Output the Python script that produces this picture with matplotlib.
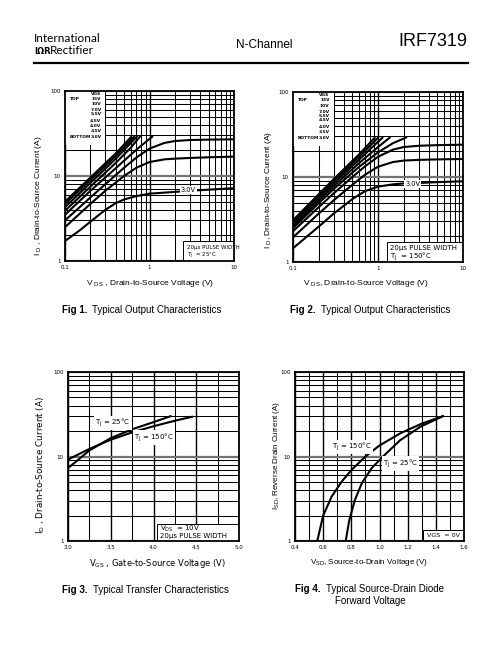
import matplotlib
matplotlib.use("Agg")
import matplotlib.pyplot as plt
from matplotlib.patches import Rectangle
from matplotlib.lines import Line2D
from matplotlib.ticker import FixedLocator, NullFormatter

plt.rcParams['font.family'] = ['Liberation Sans', 'DejaVu Sans']
plt.rcParams['mathtext.default'] = 'regular'

vgs_labels = ["15V", "10V", "7.0V", "5.5V", "4.5V", "4.0V", "3.5V", "3.0V"]

# Fig 1, TJ = 25C, one list per VGS curve (top to bottom)
fig1_vds = [
    [0.1, 0.2, 0.4, 0.62],
    [0.1, 0.2, 0.4, 0.67],
    [0.1, 0.2, 0.4, 0.72],
    [0.1, 0.2, 0.4, 0.6, 0.78],
    [0.1, 0.2, 0.3, 0.4, 0.6, 0.8, 1.1],
    [0.1, 0.2, 0.3, 0.5, 0.7, 1.0, 1.5, 2, 3, 5, 10],
    [0.1, 0.2, 0.3, 0.5, 0.7, 1.0, 1.5, 2, 3, 5, 10],
    [0.1, 0.15, 0.2, 0.3, 0.4, 0.5, 0.7, 1.0, 2, 3, 5, 10],
]
fig1_id = [
    [5.0, 9.6, 18.5, 29.5],
    [4.7, 9.0, 17.3, 29.5],
    [4.3, 8.3, 16.0, 29.5],
    [3.9, 7.5, 14.3, 21.5, 29.5],
    [3.5, 6.7, 9.6, 12.4, 17.8, 22.8, 29.5],
    [3.0, 5.6, 8.0, 12.5, 16.5, 21.0, 24.5, 25.8, 26.5, 26.8, 27.0],
    [2.5, 4.7, 6.7, 10.0, 12.5, 14.6, 15.7, 16.0, 16.3, 16.6, 16.9],
    [1.72, 2.3, 2.9, 4.0, 4.8, 5.3, 5.8, 6.2, 6.5, 6.7, 6.9, 7.2],
]

# Fig 2, TJ = 150C
fig2_vds = [
    [0.1, 0.3, 0.6, 0.93],
    [0.1, 0.3, 0.6, 1.02],
    [0.1, 0.3, 0.6, 0.9, 1.15],
    [0.1, 0.3, 0.6, 1.0, 1.4],
    [0.1, 0.2, 0.3, 0.6, 1.0, 1.5, 2.2],
    [0.1, 0.2, 0.3, 0.5, 0.7, 1.0, 1.5, 2, 3, 5, 10],
    [0.1, 0.2, 0.3, 0.5, 0.7, 1.0, 1.5, 2, 3, 5, 10],
    [0.1, 0.2, 0.3, 0.5, 0.7, 1.0, 1.5, 2, 3, 5, 10],
]
fig2_id = [
    [3.1, 9.4, 18.5, 29.5],
    [2.95, 8.9, 17.3, 29.5],
    [2.8, 8.4, 16.0, 23.5, 29.5],
    [2.65, 7.8, 14.6, 22.5, 29.5],
    [2.5, 4.9, 7.2, 13.2, 19.5, 25.0, 29.5],
    [2.3, 4.4, 6.4, 10.0, 13.3, 17.3, 21.0, 22.5, 23.3, 23.7, 24.0],
    [1.95, 3.7, 5.3, 8.1, 10.6, 13.2, 15.0, 15.6, 15.9, 16.1, 16.3],
    [1.45, 2.6, 3.7, 5.5, 6.8, 7.7, 8.2, 8.4, 8.5, 8.7, 8.9],
]

# Fig 3, transfer characteristics
fig3_vgs_25 = [3.0, 3.1, 3.25, 3.5, 3.75, 4.0, 4.2]
fig3_id_25 = [7.3, 8.8, 11.8, 16.5, 21.0, 25.5, 30.0]
fig3_vgs_150 = [3.0, 3.25, 3.5, 3.75, 4.0, 4.25, 4.45]
fig3_id_150 = [9.2, 12.3, 15.8, 19.3, 22.8, 26.5, 29.5]

# Fig 4, source-drain diode
fig4_vsd_150 = [0.558, 0.6, 0.66, 0.73, 0.8, 0.9, 1.0, 1.15, 1.3, 1.45]
fig4_isd_150 = [1.0, 2.0, 3.35, 5.0, 6.9, 10.0, 13.5, 18.9, 24.5, 30.0]
fig4_vsd_25 = [0.76, 0.785, 0.825, 0.875, 0.945, 1.025, 1.145, 1.29, 1.45]
fig4_isd_25 = [1.0, 1.75, 3.05, 4.85, 7.3, 10.0, 15.5, 22.5, 30.0]

W, H = 504, 648
LOG_MINOR = [2, 3, 4, 5, 6, 7, 8, 9, 20, 30, 40, 50, 60, 70, 80, 90]
TICK_FONT = dict(fontsize=4, family='DejaVu Sans')


def px_rect(left, top, right, bottom):
    return [left / W, 1 - bottom / H, (right - left) / W, (bottom - top) / H]


def style_axes(ax, xlog, xmajor, xlabels, xminor):
    ax.set_yscale('log')
    ax.set_ylim(1, 100)
    ax.set_yticks([1, 10, 100])
    ax.set_yticklabels(['1', '10', '100'], **TICK_FONT)
    ax.yaxis.set_minor_locator(FixedLocator(LOG_MINOR))
    ax.yaxis.set_minor_formatter(NullFormatter())
    if xlog:
        ax.set_xscale('log')
    ax.set_xlim(xmajor[0], xmajor[-1])
    ax.set_xticks(xmajor)
    ax.set_xticklabels(xlabels, **TICK_FONT)
    ax.xaxis.set_minor_locator(FixedLocator(xminor))
    ax.xaxis.set_minor_formatter(NullFormatter())
    ax.tick_params(which='both', length=0, pad=3)
    ax.set_axisbelow(True)
    ax.grid(True, which='minor', color='black', lw=0.75)
    ax.xaxis.grid(True, which='major', color='black', lw=1.0)
    ax.yaxis.grid(True, which='major', color='0.45', lw=1.6)
    for s in ax.spines.values():
        s.set_linewidth(1.3)
        s.set_zorder(5)


def draw_output(ax, vds, ids, rows, pulse_lines, pulse_size, box_left, box_top, lbl_xy):
    style_axes(ax, True, [0.1, 1, 10], ['0.1', '1', '10'],
               [0.2, 0.3, 0.4, 0.5, 0.6, 0.7, 0.8, 0.9, 2, 3, 4, 5, 6, 7, 8, 9])
    ax.add_patch(Rectangle((0, 0.685), 0.2386, 0.4, transform=ax.transAxes,
                           facecolor='white', edgecolor='none', zorder=1))
    for x, y in zip(vds, ids):
        ax.plot(x, y, color='black', lw=1.5, zorder=2, solid_capstyle='butt')
    lf = dict(fontsize=3.2, fontweight='bold', family='DejaVu Sans',
              transform=ax.transAxes, va='center', zorder=3)
    ax.text(0.215, rows[0], "VGS", ha='right', **lf)
    for lab, y in zip(vgs_labels, rows[1:]):
        ax.text(0.215, y, lab, ha='right', **lf)
    ax.text(0.03, rows[1], "TOP", ha='left', **lf)
    ax.text(0.03, rows[-1], "BOTTOM", ha='left', **lf)
    ax.text(lbl_xy[0], lbl_xy[1], "3.0V", fontsize=4.8, family='DejaVu Sans',
            ha='center', va='center', zorder=3,
            bbox=dict(boxstyle='square,pad=0.15', fc='white', ec='none'))
    ax.add_patch(Rectangle((box_left, 0), 1.2, box_top, transform=ax.transAxes,
                           facecolor='white', edgecolor='black', lw=0.7, zorder=3))
    ax.text(box_left + 0.02, box_top * 0.68, pulse_lines[0], fontsize=pulse_size,
            family='DejaVu Sans', transform=ax.transAxes, va='center', zorder=4)
    ax.text(box_left + 0.02, box_top * 0.26, pulse_lines[1], fontsize=pulse_size,
            family='DejaVu Sans', transform=ax.transAxes, va='center', zorder=4)


def caption(fig, x, y, bold, rest):
    t = fig.text(x / W, 1 - y / H, bold, fontsize=7, fontweight='bold', va='center')
    fig.canvas.draw()
    bb = t.get_window_extent()
    fig.text((bb.x1 + 5) / W, 1 - y / H, rest, fontsize=7, va='center')


fig = plt.figure(figsize=(W / 100, H / 100), dpi=100)

# header
fig.text(34 / W, 1 - 39 / H, "International", fontsize=8.5, family='Lato',
         va='center', color='black')
fig.text(34 / W, 1 - 51 / H, "IΩR", fontsize=6, fontweight='bold', va='center',
         family='DejaVu Sans')
fig.text(50 / W, 1 - 51 / H, "Rectifier", fontsize=8.5, family='Lato',
         va='center', color='black')
fig.text(264 / W, 1 - 45 / H, "N-Channel", fontsize=8.5, ha='center', va='center')
fig.text(467 / W, 1 - 41 / H, "IRF7319", fontsize=13, ha='right', va='center')
fig.add_artist(Line2D([34 / W, 468 / W], [1 - 63 / H, 1 - 63 / H], color='black', lw=1.6))

# Fig 1
ax1 = fig.add_axes(px_rect(65, 91, 234, 261))
draw_output(ax1, fig1_vds, fig1_id,
            [0.982, 0.952, 0.924, 0.889, 0.863, 0.824, 0.794, 0.762, 0.732],
            ["20µs PULSE WIDTH", r"T$_J$  = 25°C"], 4.0, 0.70, 0.115, (2.86, 6.8))
fig.text(150 / W, 1 - 283 / H, r"V $_{DS}$ , Drain-to-Source Voltage (V)",
         fontsize=6, ha='center', va='center')
fig.text(39 / W, 1 - 196 / H, r"I $_D$ , Drain-to-Source Current (A)",
         fontsize=6, ha='center', va='center', rotation=90)
caption(fig, 62, 310, "Fig 1.", "Typical Output Characteristics")

# Fig 2
ax2 = fig.add_axes(px_rect(293, 92, 463, 262))
draw_output(ax2, fig2_vds, fig2_id,
            [0.982, 0.952, 0.918, 0.884, 0.857, 0.834, 0.792, 0.762, 0.73],
            ["20µs PULSE WIDTH", r"T$_J$  = 150°C"], 5.0, 0.55, 0.12, (2.56, 8.3))
fig.text(366 / W, 1 - 284 / H, r"V $_{DS}$, Drain-to-Source Voltage (V)",
         fontsize=6, ha='center', va='center')
fig.text(268 / W, 1 - 190 / H, r"I $_D$, Drain-to-Source Current (A)",
         fontsize=6, ha='center', va='center', rotation=90)
caption(fig, 290, 310, "Fig 2.", "Typical Output Characteristics")

# Fig 3
ax3 = fig.add_axes(px_rect(68, 372, 239, 541))
style_axes(ax3, False, [3.0, 3.5, 4.0, 4.5, 5.0], ['3.0', '3.5', '4.0', '4.5', '5.0'],
           [3.25, 3.75, 4.25, 4.75])
ax3.plot(fig3_vgs_25, fig3_id_25, color='black', lw=1.5, zorder=2)
ax3.plot(fig3_vgs_150, fig3_id_150, color='black', lw=1.5, zorder=2)
ax3.text(3.32, 25, r"T$_J$ = 25°C", fontsize=5, family='DejaVu Sans', va='center',
         zorder=3, bbox=dict(boxstyle='square,pad=0.15', fc='white', ec='none'))
ax3.text(3.77, 16.7, r"T$_J$ = 150°C", fontsize=5, family='DejaVu Sans', va='center',
         zorder=3, bbox=dict(boxstyle='square,pad=0.15', fc='white', ec='none'))
ax3.add_patch(Rectangle((0.52, 0), 0.6, 0.1, transform=ax3.transAxes,
                        facecolor='white', edgecolor='black', lw=0.7, zorder=3))
ax3.text(0.54, 0.07, r"V$_{DS}$  = 10V", fontsize=5, family='DejaVu Sans',
         transform=ax3.transAxes, va='center', zorder=4)
ax3.text(0.54, 0.027, "20µs PULSE WIDTH", fontsize=5, family='DejaVu Sans',
         transform=ax3.transAxes, va='center', zorder=4)
fig.text(157 / W, 1 - 563 / H, r"V$_{GS}$ , Gate-to-Source Voltage (V)",
         fontsize=6, ha='center', va='center', family='DejaVu Sans')
fig.text(41 / W, 1 - 465 / H, r"I$_D$ , Drain-to-Source Current (A)",
         fontsize=6.3, ha='center', va='center', rotation=90, family='DejaVu Sans')
caption(fig, 62, 590, "Fig 3.", "Typical Transfer Characteristics")

# Fig 4
ax4 = fig.add_axes(px_rect(295, 372, 464, 541))
style_axes(ax4, False, [0.4, 0.6, 0.8, 1.0, 1.2, 1.4, 1.6],
           ['0.4', '0.6', '0.8', '1.0', '1.2', '1.4', '1.6'],
           [0.5, 0.7, 0.9, 1.1, 1.3, 1.5])
ax4.plot(fig4_vsd_150, fig4_isd_150, color='black', lw=1.5, zorder=2)
ax4.plot(fig4_vsd_25, fig4_isd_25, color='black', lw=1.5, zorder=2)
ax4.text(0.665, 13, r"T$_J$ = 150°C", fontsize=5, family='DejaVu Sans', va='center',
         zorder=3, bbox=dict(boxstyle='square,pad=0.15', fc='white', ec='none'))
ax4.text(1.025, 8.2, r"T$_J$ = 25°C", fontsize=5, family='DejaVu Sans', va='center',
         zorder=3, bbox=dict(boxstyle='square,pad=0.15', fc='white', ec='none'))
ax4.add_patch(Rectangle((0.76, 0), 0.3, 0.065, transform=ax4.transAxes,
                        facecolor='white', edgecolor='black', lw=0.7, zorder=3))
ax4.text(0.975, 0.032, "VGS  = 0V", fontsize=4.6, family='DejaVu Sans', ha='right',
         transform=ax4.transAxes, va='center', zorder=4)
fig.text(369 / W, 1 - 562 / H, r"V$_{SD}$, Source-to-Drain Voltage (V)",
         fontsize=5.8, ha='center', va='center')
fig.text(277 / W, 1 - 455 / H, r"I$_{SD}$, Reverse Drain Current (A)",
         fontsize=5.8, ha='center', va='center', rotation=90)
caption(fig, 295, 589, "Fig 4.", "Typical Source-Drain Diode")
fig.text(370 / W, 1 - 601 / H, "Forward Voltage", fontsize=7, ha='center', va='center')

fig.savefig("out.png", dpi=100)
